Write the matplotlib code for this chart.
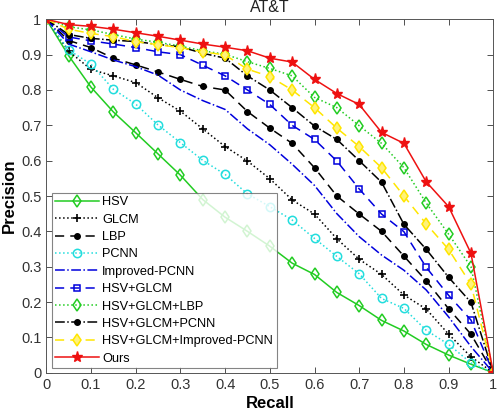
import matplotlib
matplotlib.use('Agg')
import matplotlib.pyplot as plt
import numpy as np

plt.rcParams['font.family'] = ['Liberation Sans', 'DejaVu Sans']

recall = np.round(np.arange(0, 1.0001, 0.05), 2)

hsv = [1, 0.897, 0.808, 0.738, 0.679, 0.619, 0.559, 0.49, 0.44, 0.40, 0.358,
       0.31, 0.278, 0.227, 0.19, 0.148, 0.118, 0.08, 0.05, 0.024, 0]
glcm = [1, 0.91, 0.858, 0.84, 0.821, 0.778, 0.74, 0.69, 0.64, 0.599, 0.549,
        0.489, 0.449, 0.379, 0.321, 0.278, 0.22, 0.18, 0.109, 0.045, 0]
lbp = [1, 0.94, 0.92, 0.89, 0.871, 0.851, 0.83, 0.81, 0.80, 0.739, 0.692,
       0.649, 0.58, 0.5, 0.449, 0.40, 0.33, 0.26, 0.181, 0.109, 0]
pcnn = [1, 0.913, 0.873, 0.802, 0.76, 0.701, 0.651, 0.601, 0.561, 0.506, 0.47,
        0.432, 0.38, 0.329, 0.28, 0.21, 0.182, 0.12, 0.08, 0.028, 0]
imp_pcnn = [1, 0.93, 0.908, 0.885, 0.866, 0.842, 0.80, 0.77, 0.745, 0.69, 0.645,
            0.59, 0.53, 0.45, 0.385, 0.333, 0.29, 0.234, 0.158, 0.074, 0]
hsv_glcm = [1, 0.95, 0.939, 0.93, 0.92, 0.908, 0.90, 0.87, 0.84, 0.80, 0.759,
            0.70, 0.66, 0.599, 0.52, 0.449, 0.399, 0.298, 0.219, 0.149, 0]
hsv_glcm_lbp = [1, 0.979, 0.97, 0.957, 0.944, 0.935, 0.924, 0.911, 0.901, 0.88, 0.861,
                0.84, 0.779, 0.75, 0.699, 0.649, 0.58, 0.48, 0.392, 0.30, 0]
hsv_glcm_pcnn = [1, 0.957, 0.946, 0.941, 0.937, 0.929, 0.922, 0.904, 0.89, 0.84, 0.80,
                 0.75, 0.698, 0.66, 0.60, 0.539, 0.42, 0.349, 0.27, 0.199, 0]
hsv_glcm_imp = [1, 0.972, 0.96, 0.951, 0.937, 0.928, 0.92, 0.908, 0.899, 0.859, 0.838,
                0.80, 0.75, 0.692, 0.64, 0.58, 0.50, 0.421, 0.349, 0.25, 0]
ours = [1, 0.985, 0.98, 0.972, 0.962, 0.952, 0.941, 0.93, 0.921, 0.911, 0.89,
        0.879, 0.83, 0.79, 0.759, 0.68, 0.649, 0.54, 0.47, 0.338, 0]

green = '#22cc22'
cyan = '#22dddd'
blue = '#0000dd'
yellow = '#ffe600'
red = '#ee1111'

fig = plt.figure(figsize=(5.0, 4.17), dpi=100)
ax = fig.add_axes([0.0926, 0.1062, 0.894, 0.8475])

lw = 1.1
ax.plot(recall, hsv, '-', color=green, lw=lw, marker='d', ms=6, mfc='none', mew=1.1, label='HSV')
ax.plot(recall, glcm, ':', color='black', lw=lw, marker='+', ms=6, mew=1.2, label='GLCM')
ax.plot(recall, lbp, '--', color='black', lw=lw, marker='o', ms=4, mfc='black', dashes=(6, 4), label='LBP')
ax.plot(recall, pcnn, ':', color=cyan, lw=lw, marker='o', ms=6, mfc='none', mew=1.1, label='PCNN')
ax.plot(recall, imp_pcnn, '-.', color=blue, lw=lw, label='Improved-PCNN')
ax.plot(recall, hsv_glcm, '--', color=blue, lw=lw, marker='s', ms=5, mfc='none', mew=1.1, dashes=(6, 4), label='HSV+GLCM')
ax.plot(recall, hsv_glcm_lbp, ':', color=green, lw=lw, marker='d', ms=6, mfc='none', mew=1.1, label='HSV+GLCM+LBP')
ax.plot(recall, hsv_glcm_pcnn, '-.', color='black', lw=lw, marker='o', ms=4, mfc='black', label='HSV+GLCM+PCNN')
ax.plot(recall, hsv_glcm_imp, '--', color=yellow, lw=lw, marker='d', ms=6, mfc='#fff27a', mew=1.1, dashes=(6, 4), label='HSV+GLCM+Improved-PCNN')
ax.plot(recall, ours, '-', color=red, lw=lw, marker='*', ms=8, mfc=red, label='Ours')

ax.set_xlim(0, 1)
ax.set_ylim(0, 1)
ticks = np.round(np.arange(0, 1.01, 0.1), 1)
labels = ['0'] + ['%.1f' % t for t in ticks[1:-1]] + ['1']
ax.set_xticks(ticks)
ax.set_xticklabels(labels)
ax.set_yticks(ticks)
ax.set_yticklabels(labels)
ax.tick_params(direction='in', top=True, right=True, labelsize=10.5, colors='#333333',
               length=4, width=0.6)
for s in ax.spines.values():
    s.set_color('#555555')
    s.set_linewidth(0.7)

ax.set_xlabel('Recall', fontsize=12, fontweight='bold', labelpad=3)
ax.set_ylabel('Precision', fontsize=12, fontweight='bold', labelpad=3)
ax.set_title('AT&T', fontsize=11.5, pad=5, color='#222222')

leg = ax.legend(loc='lower left', bbox_to_anchor=(0.012, 0.012), fontsize=9.2, frameon=True,
                fancybox=False, edgecolor='#666666', handlelength=3.4, handletextpad=0.25,
                labelspacing=0.42, borderpad=0.3, borderaxespad=0.0)
leg.get_frame().set_linewidth(0.8)

fig.savefig('out.png', dpi=100)
